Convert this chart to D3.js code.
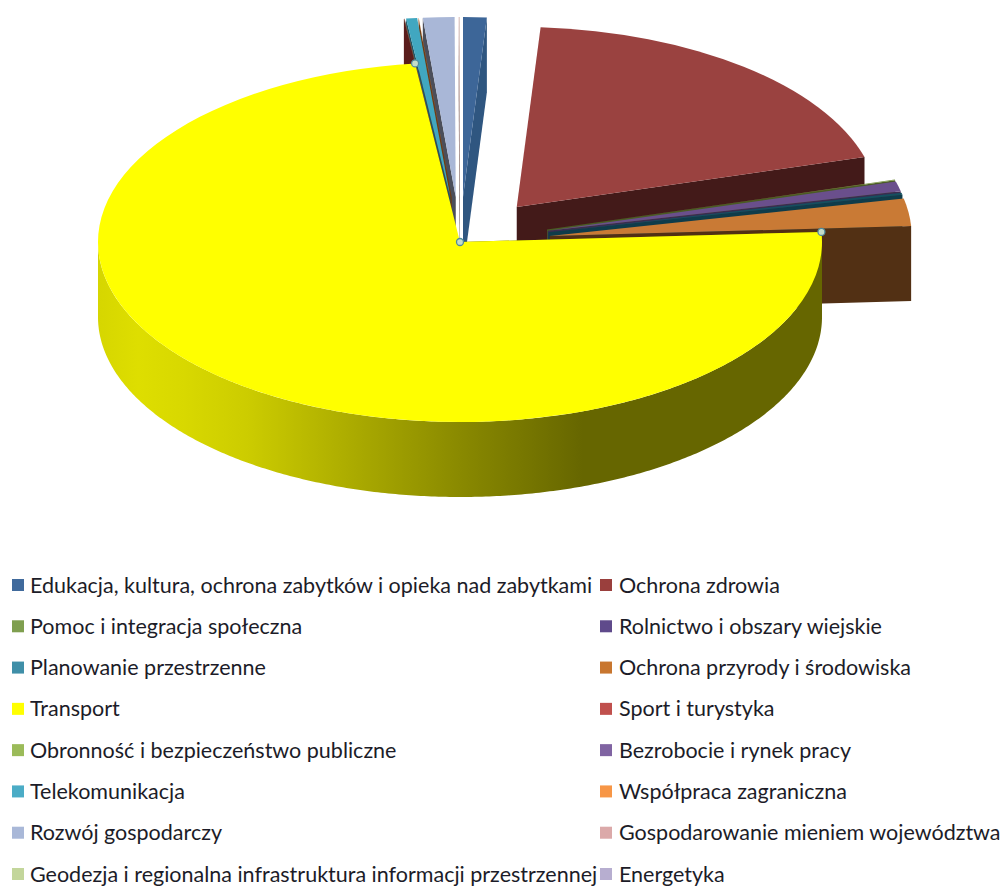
<!DOCTYPE html>
<html>
<head>
<meta charset="utf-8">
<script src="https://cdn.jsdelivr.net/npm/d3@7"></script>
<style>
  html, body { margin: 0; padding: 0; background: #fff; }
  svg { display: block; }
  text { font-family: Lato, "Open Sans", sans-serif; font-size: 21.5px; fill: #1c1c28; }
</style>
</head>
<body>
<div id="chart"></div>
<script>
// values, share of total in %
const categories = [
  "Edukacja, kultura, ochrona zabytków i opieka nad zabytkami",
  "Ochrona zdrowia",
  "Pomoc i integracja społeczna",
  "Rolnictwo i obszary wiejskie",
  "Planowanie przestrzenne",
  "Ochrona przyrody i środowiska",
  "Transport",
  "Sport i turystyka",
  "Obronność i bezpieczeństwo publiczne",
  "Bezrobocie i rynek pracy",
  "Telekomunikacja",
  "Współpraca zagraniczna",
  "Rozwój gospodarczy",
  "Gospodarowanie mieniem województwa",
  "Geodezja i regionalna infrastruktura informacji przestrzennej",
  "Energetyka"
];
const values = [1.05, 19.47, 0.06, 0.88, 0.2, 2.45, 73.91, 0.01, 0.01, 0.01, 0.49, 0.01, 1.4, 0.03, 0.01, 0.01];
const exploded = [1, 1, 1, 1, 1, 1, 0, 1, 1, 1, 1, 1, 1, 1, 1, 1];
const topColors = ["#3d6698", "#9a4240", "#76913f", "#6a4f8c", "#14505f", "#c97a35", "#ffff00", "#b5484a", "#93b052", "#755a98", "#41a7c0", "#e8893c", "#a9b7d7", "#dcaeae", "#c3d69b", "#b7aed0"];
const wallColors = ["#2f5680", "#431a19", "#4a5c24", "#3b2c50", "#0f3c4a", "#523014", "#666600", "#5a1d1c", "#4f5e2c", "#3f3052", "#1d5565", "#6e3c14", "#4b4e5a", "#7a5a5a", "#616b4d", "#5b5768"];
const legendColors = ["#406a9c", "#9a3f3d", "#7f9f4f", "#5f4a8b", "#3f8fa8", "#c8762f", "#ffff00", "#c0504d", "#9bbb59", "#8064a2", "#4bacc6", "#f79646", "#a9b8d8", "#dba9a9", "#c3d69b", "#b7aed0"];

const width = 1003, height = 886;
const cx = 460, cy = 242, rx = 362, ry = 180, depth = 75, explode = 0.25;

const svg = d3.select("#chart").append("svg")
  .attr("width", width)
  .attr("height", height);

// lighting on the outer wall of the big slice
const grad = svg.append("defs").append("linearGradient")
  .attr("id", "wallShade")
  .attr("gradientUnits", "userSpaceOnUse")
  .attr("x1", cx - rx).attr("x2", cx + rx)
  .attr("y1", 0).attr("y2", 0);
[[0, "#d6d600"], [0.055, "#dede00"], [0.12, "#d8d800"], [0.207, "#cccc00"], [0.4, "#a0a000"], [0.52, "#858500"], [0.67, "#666600"], [1, "#666600"]]
  .forEach(s => grad.append("stop").attr("offset", s[0]).attr("stop-color", s[1]));

const pie = d3.pie().sort(null).value(d => d.value);
const slices = pie(categories.map((name, i) => ({
  name: name, value: values[i], i: i
})));

// 0 rad is at the top, angles run clockwise, same as d3.arc
const px = (a, off) => off.x + rx * Math.sin(a);
const py = (a, off) => off.y - ry * Math.cos(a);

slices.forEach(s => {
  const mid = (s.startAngle + s.endAngle) / 2;
  const e = exploded[s.data.i] * explode;
  s.mid = mid;
  s.off = { x: cx + e * rx * Math.sin(mid), y: cy - e * ry * Math.cos(mid) };
});

// paint from the back of the pie to the front
const order = slices.slice().sort((a, b) => d3.descending(Math.cos(a.mid), Math.cos(b.mid)));

const arc = d3.arc().innerRadius(0).outerRadius(rx);
const line = d3.line().x(d => d[0]).y(d => d[1]);

const pieG = svg.append("g").attr("class", "pie");

order.forEach(s => {
  const g = pieG.append("g");
  const idx = s.data.i;

  // the cut face that looks towards the viewer
  const faceAngle = Math.sin(s.mid) > 0 ? s.endAngle : s.startAngle;
  const o = s.off;
  g.append("path")
    .attr("d", line([
      [o.x, o.y],
      [px(faceAngle, o), py(faceAngle, o)],
      [px(faceAngle, o), py(faceAngle, o) + depth],
      [o.x, o.y + depth]
    ]) + "Z")
    .attr("fill", wallColors[idx]);

  // outer wall, front half only
  const a0 = Math.max(s.startAngle, Math.PI / 2);
  const a1 = Math.min(s.endAngle, Math.PI * 1.5);
  if (a1 > a0) {
    const steps = d3.range(a0, a1, 0.01).concat([a1]);
    const upper = steps.map(a => [px(a, o), py(a, o)]);
    const lower = steps.slice().reverse().map(a => [px(a, o), py(a, o) + depth]);
    g.append("path")
      .attr("d", line(upper.concat(lower)) + "Z")
      .attr("fill", "url(#wallShade)");
  }

  // top surface, a circular arc squashed to the ellipse
  g.append("path")
    .attr("d", arc(s))
    .attr("transform", `translate(${o.x},${o.y}) scale(1,${ry / rx})`)
    .attr("fill", topColors[idx]);
});

// selection handles on the corners of the big slice
const big = slices[6];
const handles = [
  [big.off.x, big.off.y],
  [px(big.startAngle, big.off), py(big.startAngle, big.off)],
  [px(big.endAngle, big.off), py(big.endAngle, big.off)]
];
pieG.selectAll("circle.handle")
  .data(handles)
  .join("circle")
  .attr("class", "handle")
  .attr("cx", d => d[0])
  .attr("cy", d => d[1])
  .attr("r", 3.5)
  .attr("fill", "#c4dcc8")
  .attr("stroke", "#4f8a9c")
  .attr("stroke-width", 1.3);

// legend, two columns, filled row by row
const rows = d3.range(Math.ceil(categories.length / 2));
const rowY = d3.scalePoint().domain(rows).range([585, 874]);
const colX = d3.scaleOrdinal().domain([0, 1]).range([12, 600]);

const legend = svg.append("g").attr("class", "legend")
  .selectAll("g")
  .data(categories)
  .join("g")
  .attr("transform", (d, i) => `translate(${colX(i % 2)},${rowY(Math.floor(i / 2))})`);

legend.append("rect")
  .attr("x", 0).attr("y", -6)
  .attr("width", 12).attr("height", 12)
  .attr("fill", (d, i) => legendColors[i]);

legend.append("text")
  .attr("x", (d, i) => i % 2 ? 19 : 18)
  .attr("dy", "0.35em")
  .text(d => d);
</script>
</body>
</html>
